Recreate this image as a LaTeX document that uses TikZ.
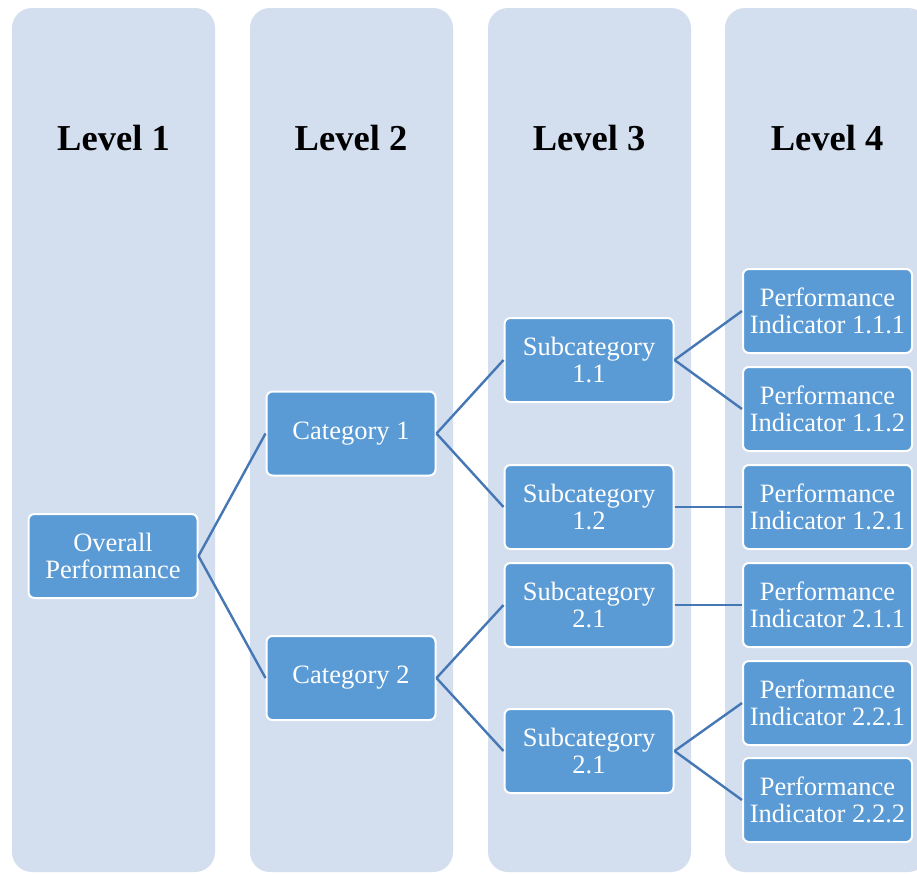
\documentclass[tikz,border=0pt]{standalone}
\usepackage{fontspec}
\setmainfont{Liberation Serif}
\definecolor{lane}{HTML}{D3DEEF}
\definecolor{boxfill}{HTML}{5B9BD5}
\definecolor{link}{HTML}{4677B5}
\tikzset{
  lanebox/.style={fill=lane, draw=none, rounded corners=20pt},
  levellabel/.style={font=\fontsize{36.5}{40}\selectfont\bfseries, text=black, anchor=base},
  item/.style={fill=boxfill, draw=white, line width=2pt, rounded corners=6pt,
    minimum width=169pt, minimum height=84pt, inner sep=0pt, text=white,
    align=center, font=\fontsize{26.5}{27}\selectfont},
  link/.style={draw=link, line width=2.4pt}
}
\begin{document}
\begin{tikzpicture}[x=1pt, y=-1pt]
  \clip (0,0) rectangle (917,873);
  \fill[white] (0,0) rectangle (917,873);

  % four level lanes
  \foreach \lx in {12,250,488,725}
    \fill[lanebox] (\lx,8) rectangle ++(203,864);

  % level headings
  \node[levellabel] (l1) at (113.5,150) {Level 1};
  \node[levellabel] (l2) at (351,150) {Level 2};
  \node[levellabel] (l3) at (589,150) {Level 3};
  \node[levellabel] (l4) at (827,150) {Level 4};

  % hierarchy
  \node[item] (ov) at (113,556) {Overall\\Performance};

  \node[item] (c1) at (351,433.5) {Category 1};
  \node[item] (c2) at (351,678) {Category 2};

  \node[item] (s11) at (589,360) {Subcategory\\1.1};
  \node[item] (s12) at (589,507) {Subcategory\\1.2};
  \node[item] (s21) at (589,605) {Subcategory\\2.1};
  \node[item] (s22) at (589,751) {Subcategory\\2.1};

  \node[item] (p111) at (827.5,311) {Performance\\Indicator 1.1.1};
  \node[item] (p112) at (827.5,409) {Performance\\Indicator 1.1.2};
  \node[item] (p121) at (827.5,507) {Performance\\Indicator 1.2.1};
  \node[item] (p211) at (827.5,605) {Performance\\Indicator 2.1.1};
  \node[item] (p221) at (827.5,703) {Performance\\Indicator 2.2.1};
  \node[item] (p222) at (827.5,800) {Performance\\Indicator 2.2.2};

  % connectors
  \draw[link] (ov.east) -- (c1.west);
  \draw[link] (ov.east) -- (c2.west);
  \draw[link] (c1.east) -- (s11.west);
  \draw[link] (c1.east) -- (s12.west);
  \draw[link] (c2.east) -- (s21.west);
  \draw[link] (c2.east) -- (s22.west);
  \draw[link] (s11.east) -- (p111.west);
  \draw[link] (s11.east) -- (p112.west);
  \draw[link] (s12.east) -- (p121.west);
  \draw[link] (s21.east) -- (p211.west);
  \draw[link] (s22.east) -- (p221.west);
  \draw[link] (s22.east) -- (p222.west);
\end{tikzpicture}
\end{document}
